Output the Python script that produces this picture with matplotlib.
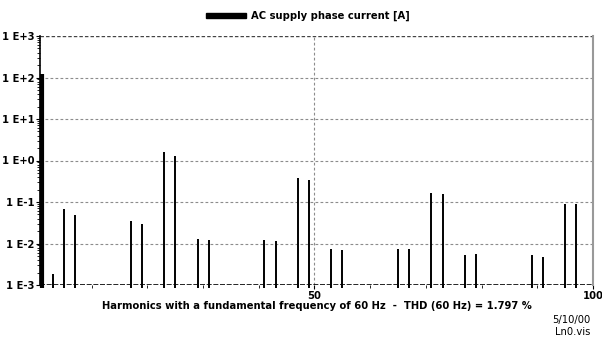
import matplotlib
matplotlib.use("Agg")
import matplotlib.pyplot as plt
from matplotlib.patches import Rectangle
from matplotlib.ticker import FixedLocator, NullFormatter

# Harmonic spectrum of the AC supply phase current
harmonics = [1, 3, 5, 7, 17, 19, 23, 25, 29, 31, 41, 43, 47, 49,
             53, 55, 65, 67, 71, 73, 77, 79, 89, 91, 95, 97]
current = [120, 0.0018, 0.067, 0.049, 0.034, 0.0295, 1.63, 1.31, 0.013, 0.0124,
           0.0124, 0.0117, 0.37, 0.34, 0.0074, 0.0071, 0.0074, 0.0074, 0.165,
           0.16, 0.0054, 0.0056, 0.0052, 0.0047, 0.089, 0.089]

ytick_vals = [1e-3, 1e-2, 1e-1, 1e0, 1e1, 1e2, 1e3]
ytick_labels = ["1 E-3", "1 E-2", "1 E-1", "1 E+0", "1 E+1", "1 E+2", "1 E+3"]
xtick_vals = [50, 100]

legend_text = "AC supply phase current [A]"
xlabel_text = "Harmonics with a fundamental frequency of 60 Hz  -  THD (60 Hz) = 1.797 %"
footer = ["5/10/00", "Ln0.vis"]

fs = 7.2
fig = plt.figure(figsize=(6.02, 3.41), dpi=100)
ax = fig.add_axes([40 / 602, 1 - 285 / 341, 553 / 602, 249 / 341])
ax.set_yscale("log")
ax.set_ylim(1e-3, 1e3)
ax.set_xlim(0.72, 100)

# bars as thin vertical lines, fundamental drawn thicker;
# they poke a little below the bottom line like in the original
for h, v in zip(harmonics, current):
    lw = 3.0 if h == 1 else 1.4
    ax.vlines(h, 1e-3 / 1.15, v, color="black", linewidth=lw, zorder=3,
              clip_on=False)

# grid
for yv in ytick_vals[1:-1]:
    ax.axhline(yv, color="#8c8c8c", linestyle=(0, (2.5, 2)), linewidth=0.8, zorder=1)
ax.axhline(1e3, color="#444444", linestyle=(0, (2.5, 1.5)), linewidth=1.0, zorder=2)
ax.axhline(1e-3, color="black", linestyle=(0, (3, 1)), linewidth=1.2, zorder=2)
ax.axvline(50, color="#8c8c8c", linestyle=(0, (2.5, 2)), linewidth=0.8, zorder=1)

for s in ["top", "bottom"]:
    ax.spines[s].set_visible(False)
ax.spines["left"].set_color("black")
ax.spines["left"].set_linewidth(1.2)
ax.spines["right"].set_color("#999999")
ax.spines["right"].set_linewidth(1.5)

ax.yaxis.set_major_locator(FixedLocator(ytick_vals))
ax.set_yticklabels(ytick_labels, fontsize=fs, fontweight="bold")
ax.yaxis.set_minor_formatter(NullFormatter())
ax.tick_params(axis="y", which="major", length=3, width=0.8, pad=1)
ax.tick_params(axis="y", which="minor", length=2, width=0.6)

ax.xaxis.set_major_locator(FixedLocator(xtick_vals))
ax.xaxis.set_minor_locator(FixedLocator([10, 20, 30, 40, 60, 70, 80, 90]))
ax.set_xticklabels([str(x) for x in xtick_vals], fontsize=fs, fontweight="bold")
ax.tick_params(axis="x", which="major", length=3, width=0.8, pad=1)
ax.tick_params(axis="x", which="minor", length=2, width=0.6)

ax.set_xlabel(xlabel_text, fontsize=fs, fontweight="bold", labelpad=0)

# legend
fig.patches.append(Rectangle((206 / 602, 1 - 18 / 341), 40 / 602, 5 / 341,
                             transform=fig.transFigure, color="black"))
fig.text(251 / 602, 1 - 15.5 / 341, legend_text, fontsize=fs, fontweight="bold",
         va="center", ha="left")

fig.text(590 / 602, 1 - 320 / 341, footer[0], fontsize=7.2, ha="right", va="center")
fig.text(590 / 602, 1 - 332 / 341, footer[1], fontsize=7.2, ha="right", va="center")

fig.savefig("out.png", dpi=100, facecolor="white")
